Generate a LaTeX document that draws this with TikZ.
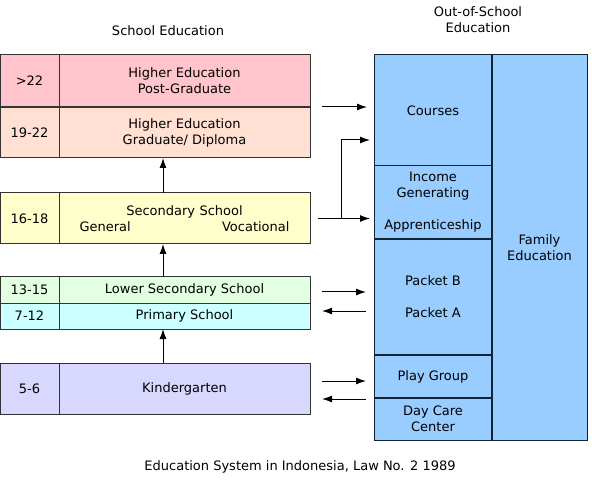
\documentclass[tikz,border=0pt]{standalone}
\usepackage{fontspec}
\setmainfont{DejaVu Sans}
\usetikzlibrary{positioning,arrows.meta}
\tikzset{>={Latex[length=10pt,width=7pt]}}
\definecolor{postgrad}{HTML}{FFC4CC}
\definecolor{grad}{HTML}{FFE0D2}
\definecolor{second}{HTML}{FFFFCC}
\definecolor{lowsec}{HTML}{E2FFE2}
\definecolor{prim}{HTML}{CCFFFF}
\definecolor{kinder}{HTML}{D8D8FF}
\definecolor{outsch}{HTML}{99CCFF}
\definecolor{rim}{HTML}{333333}
\definecolor{navy}{HTML}{102438}
\tikzset{
  agebox/.style={draw=rim,line width=1pt,outer sep=0pt,minimum width=59pt,inner sep=0pt,anchor=north west,align=center},
  levelbox/.style={draw=rim,line width=1pt,outer sep=0pt,minimum width=251pt,inner sep=0pt,align=center},
  outbox/.style={draw=navy,line width=1pt,outer sep=0pt,fill=outsch,minimum width=118pt,inner sep=0pt,align=center},
  divider/.style={navy,line width=2.2pt},
}

\begin{document}
\begin{tikzpicture}[x=1pt,y=-1pt,font=\fontsize{13}{16}\selectfont,line width=1pt]
  \useasboundingbox (0,0) rectangle (592,481);
  % titles
  \node (schooltitle) at (168,31) {School Education};
  \node[align=center] (outtitle) at (478,20) {Out-of-School\\Education};
  \node (caption) at (300,467) {Education System in Indonesia, Law No. 2 1989};
  % school education
  \node[agebox,fill=postgrad,minimum height=52pt] (age1) at (0,55) {>22};
  \node[levelbox,fill=postgrad,minimum height=52pt,right=0pt of age1] (lvl1) {Higher Education\\Post-Graduate};
  \node[agebox,fill=grad,minimum height=51pt] (age2) at (0,107) {19-22};
  \node[levelbox,fill=grad,minimum height=51pt,right=0pt of age2] (lvl2) {Higher Education\\Graduate/ Diploma};
  \draw[rim,line width=2.2pt] (age1.south west) -- (lvl1.south east);
  \node[agebox,fill=second,minimum height=51pt] (age3) at (0,193) {16-18};
  \node[levelbox,fill=second,minimum height=51pt,right=0pt of age3,
        text width=210pt] (lvl3) {Secondary School\\General\hfill Vocational};
  \node[agebox,fill=lowsec,minimum height=26pt] (age4) at (0,277) {13-15};
  \node[levelbox,fill=lowsec,minimum height=26pt,right=0pt of age4] (lvl4) {Lower Secondary School};
  \node[agebox,fill=prim,minimum height=26pt] (age5) at (0,303) {7-12};
  \node[levelbox,fill=prim,minimum height=26pt,right=0pt of age5] (lvl5) {Primary School};
  \node[agebox,fill=kinder,minimum height=51pt] (age6) at (0,363) {5-6};
  \node[levelbox,fill=kinder,minimum height=51pt,right=0pt of age6] (lvl6) {Kindergarten};
  % out-of-school education
  \node[outbox,anchor=north west,minimum height=111pt] (courses) at (374,55) {Courses};
  \node[outbox,minimum height=73pt,below=0pt of courses] (income) {Income\\Generating\\[16pt]Apprenticeship};
  \node[outbox,minimum height=116pt,below=0pt of income] (packets) {Packet B\\[16pt]Packet A};
  \node[outbox,minimum height=43pt,below=0pt of packets] (play) {Play Group};
  \node[outbox,minimum height=42pt,below=0pt of play] (daycare) {Day Care\\Center};
  \node[outbox,anchor=north west,minimum width=95pt,minimum height=385pt] (family) at (492,55) {Family\\Education};
  \draw[divider] (income.south west) -- (income.south east);
  \draw[divider] (packets.south west) -- (packets.south east);
  \draw[divider] (play.south west) -- (play.south east);
  \draw[divider] (family.north west) -- (family.south west);
  % upward arrows
  \coordinate (up) at (163,0);
  \draw[->] (lvl3.north -| up) -- (lvl2.south -| up);
  \draw[->] (lvl4.north -| up) -- (lvl3.south -| up);
  \draw[->] (lvl6.north -| up) -- (lvl5.south -| up);
  % arrows to the right
  \coordinate (h1) at ([xshift=12pt]lvl1.south east);
  \draw[->,shorten >=7pt] (h1) -- (h1 -| courses.west);
  \coordinate (s0) at ([xshift=8pt]lvl3.east);
  \coordinate (fork) at ([xshift=31pt]lvl3.east);
  \coordinate (cin) at ([yshift=26pt]courses.south west);
  \draw[->,shorten >=4pt] (s0) -- (s0 -| income.west);
  \draw[->,shorten >=4pt] (fork) |- (cin);
  \coordinate (p1) at ([xshift=12pt,yshift=-2pt]lvl4.east);
  \draw[->,shorten >=8pt] (p1) -- (p1 -| packets.west);
  \coordinate (p2) at ([xshift=12pt,yshift=5pt]lvl5.east);
  \draw[<-,shorten >=8pt] (p2) -- (p2 -| packets.west);
  \coordinate (k1) at ([xshift=12pt,yshift=7.5pt]lvl6.east);
  \draw[->,shorten >=8pt] (k1) -- (k1 -| play.west);
  \coordinate (k2) at ([xshift=12pt,yshift=-10.5pt]lvl6.east);
  \draw[<-,shorten >=8pt] (k2) -- (k2 -| daycare.west);
\end{tikzpicture}
\end{document}
